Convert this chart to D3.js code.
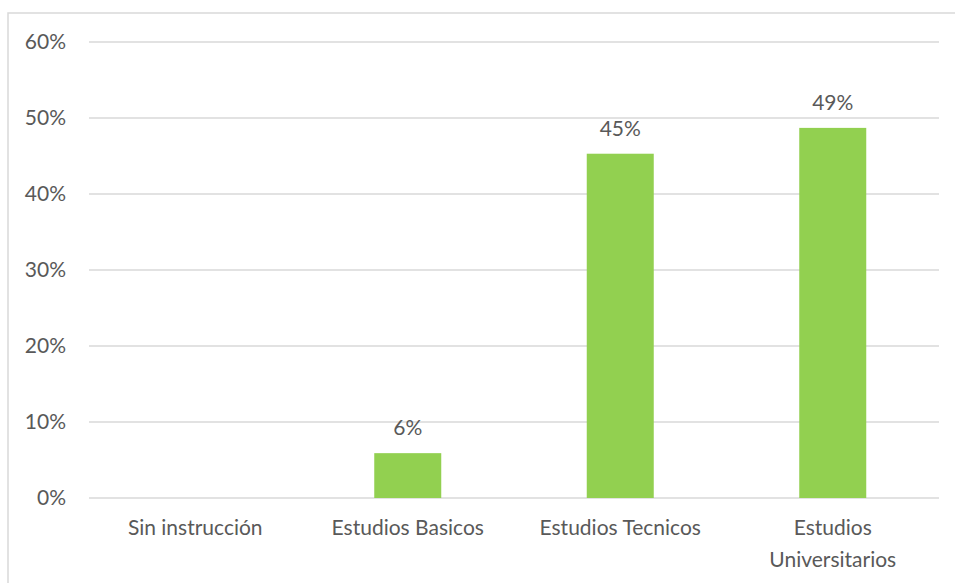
<!DOCTYPE html>
<html><head><meta charset="utf-8">
<script src="https://cdn.jsdelivr.net/npm/d3@7"></script>
<style>body{margin:0;background:#fff}svg{display:block}text{font-family:"Lato","Open Sans",sans-serif;fill:#595959}</style>
</head><body><svg id="c" width="955" height="583"></svg>
<script>
const categories = ["Sin instrucción","Estudios Basicos","Estudios Tecnicos","Estudios Universitarios"];
const categoryLines = [["Sin instrucción"],["Estudios Basicos"],["Estudios Tecnicos"],["Estudios","Universitarios"]];
const values = [0, 0.059, 0.453, 0.487];
const valueLabels = [null, "6%", "45%", "49%"];
const yTicks = [0, 0.1, 0.2, 0.3, 0.4, 0.5, 0.6];

const svg = d3.select("#c");
svg.append("rect").attr("x",8).attr("y",13).attr("width",960).attr("height",600)
  .attr("fill","#fff").attr("stroke","#d9d9d9").attr("stroke-width",1.5);

const x = d3.scaleBand().domain(categories).range([89,939]).paddingInner(0).paddingOuter(0);
const y = d3.scaleLinear().domain([0,0.6]).range([498,42]);
const fs = "21px";

const g = svg.append("g");
g.selectAll("line.grid").data(yTicks).join("line")
  .attr("x1",89).attr("x2",939).attr("y1",d=>y(d)).attr("y2",d=>y(d))
  .attr("stroke","#d9d9d9").attr("stroke-width",1.5);

g.selectAll("text.yt").data(yTicks).join("text")
  .attr("x",66).attr("y",d=>y(d)).attr("dy","0.35em").attr("text-anchor","end")
  .style("font-size",fs).text(d=>d3.format(".0%")(d));

const bw = 67;
g.selectAll("rect.bar").data(values).join("rect")
  .attr("x",(d,i)=>x(categories[i])+x.bandwidth()/2-bw/2)
  .attr("width",bw)
  .attr("y",d=>y(d)).attr("height",d=>y(0)-y(d))
  .attr("fill","#92d050");

g.selectAll("text.vl").data(values).join("text")
  .attr("x",(d,i)=>x(categories[i])+x.bandwidth()/2)
  .attr("y",d=>y(d)-18).attr("text-anchor","middle")
  .style("font-size",fs).text((d,i)=>valueLabels[i]||"");

categoryLines.forEach((lines,i)=>{
  const t = g.append("text").attr("text-anchor","middle").style("font-size",fs);
  lines.forEach((l,j)=>{
    t.append("tspan").attr("x",x(categories[i])+x.bandwidth()/2).attr("y",535+j*32).text(l);
  });
});
</script></body></html>
